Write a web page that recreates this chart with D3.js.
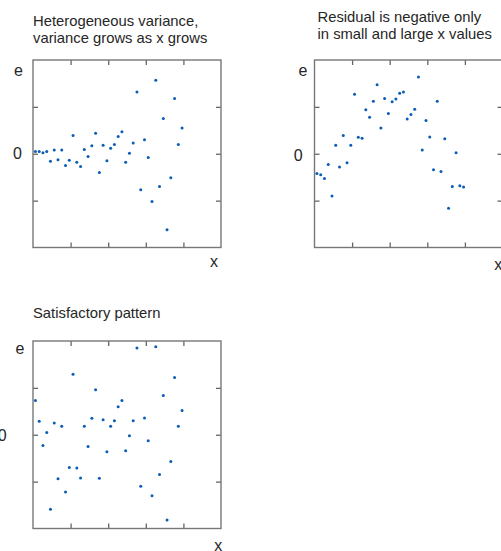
<!DOCTYPE html>
<html>
<head>
<meta charset="utf-8">
<script src="https://cdn.jsdelivr.net/npm/d3@7"></script>
<style>
  body { margin: 0; background: #fff; }
  text { font-family: "Liberation Sans", Arial, sans-serif; fill: #262626; }
</style>
</head>
<body>
<div id="chart-area"></div>
<script>
// x positions (observation index) shared by all three plots
var xIdx = [1, 2, 3, 4, 5, 6, 7, 8, 9, 10, 11, 12, 13, 14, 15, 16, 17, 18, 19, 20,
            21, 22, 23, 24, 25, 26, 27, 28, 29, 30, 31, 32, 33, 34, 35, 36, 37, 38, 39, 40];

// residuals
var hetero = [0.05, 0.05, 0.02, 0.05, -0.16, 0.08, -0.13, 0.08, -0.25, -0.14,
              0.39, -0.18, -0.27, 0.09, -0.06, 0.17, 0.44, -0.40, 0.18, -0.15,
              0.12, 0.20, 0.37, 0.47, -0.18, 0.01, 0.23, 1.32, -0.77, 0.30,
              -0.08, -1.02, 1.57, -0.70, 0.75, -1.62, -0.51, 1.18, 0.20, 0.55];

var curved = [-0.42, -0.45, -0.53, -0.23, -0.90, 0.18, -0.28, 0.39, -0.19, 0.18,
              1.27, 0.35, 0.33, 0.94, 0.78, 1.12, 1.47, 0.55, 1.18, 0.86,
              1.11, 1.17, 1.29, 1.32, 0.74, 0.84, 0.95, 1.64, 0.08, 0.71,
              0.36, -0.34, 1.12, -0.38, 0.32, -1.16, -0.70, 0.02, -0.68, -0.71];

var random = [0.73, 0.29, -0.23, 0.05, -1.59, 0.25, -0.94, 0.18, -1.22, -0.70,
              1.29, -0.71, -0.92, 0.18, -0.25, 0.35, 0.96, -0.93, 0.32, -0.36,
              0.18, 0.30, 0.60, 0.73, -0.34, -0.02, 0.30, 1.85, -1.10, 0.36,
              -0.13, -1.30, 1.88, -0.85, 0.84, -1.82, -0.57, 1.22, 0.18, 0.52];

var xTicks = [10.35, 20.35, 30.35, 40.35];
var yTicks = [-1, 0, 1];

var panels = [
  { title: ["Heterogeneous variance,", "variance grows as x grows"], values: hetero,
    left: 33, top: 60, titleX: 33, titleY: 26,
    eX: 18.5, eY: 76, zeroX: 22, zeroY: 159, xlX: 214, xlY: 267 },
  { title: ["Residual is negative only", "in small and large x values"], values: curved,
    left: 314.5, top: 60, titleX: 317.5, titleY: 22,
    eX: 303, eY: 76, zeroX: 302.7, zeroY: 160.5, xlX: 498.3, xlY: 270 },
  { title: ["Satisfactory pattern"], values: random,
    left: 33, top: 341, titleX: 33, titleY: 318,
    eX: 20, eY: 353.5, zeroX: 6.7, zeroY: 440.5, xlX: 218.3, xlY: 550.5 }
];

var width = 188;
var height = 187.5;
var tick = 5;

var svg = d3.select("#chart-area").append("svg")
    .attr("width", 501)
    .attr("height", 551);

var x = d3.scaleLinear().domain([0.35, 50.35]).range([0, width]);
var y = d3.scaleLinear().domain([-2, 2]).range([height, 0]);

panels.forEach(function (p) {
    // title lines
    svg.append("text")
        .attr("x", p.titleX)
        .attr("y", p.titleY)
        .style("font-size", "14.8px")
        .selectAll("tspan")
        .data(p.title)
        .enter()
        .append("tspan")
        .attr("x", p.titleX)
        .attr("dy", function (d, i) { return i === 0 ? 0 : 17; })
        .text(function (d) { return d; });

    var g = svg.append("g")
        .attr("transform", "translate(" + p.left + "," + p.top + ")");

    // inward ticks on all four sides
    var axes = [
        { call: d3.axisBottom(x), t: "translate(0," + height + ")", vals: xTicks },
        { call: d3.axisTop(x), t: "translate(0,0)", vals: xTicks },
        { call: d3.axisLeft(y), t: "translate(0,0)", vals: yTicks },
        { call: d3.axisRight(y), t: "translate(" + width + ",0)", vals: yTicks }
    ];
    axes.forEach(function (a) {
        var ag = g.append("g")
            .attr("transform", a.t)
            .call(a.call.tickValues(a.vals).tickSize(-tick).tickFormat(""));
        ag.select(".domain").remove();
        ag.selectAll("line").attr("stroke", "#666").attr("stroke-width", 1.3);
    });

    // frame
    g.append("rect")
        .attr("width", width)
        .attr("height", height)
        .attr("fill", "none")
        .attr("stroke", "#777")
        .attr("stroke-width", 1.4);

    // points
    g.selectAll("circle")
        .data(p.values)
        .enter()
        .append("circle")
        .attr("cx", function (d, i) { return x(xIdx[i]); })
        .attr("cy", function (d) { return y(d); })
        .attr("r", 1.5)
        .attr("fill", "#0b5cb5");

    // axis labels
    svg.append("text")
        .attr("x", p.eX).attr("y", p.eY)
        .attr("text-anchor", "middle")
        .style("font-size", "16px")
        .text("e");
    svg.append("text")
        .attr("x", p.zeroX).attr("y", p.zeroY)
        .attr("text-anchor", "end")
        .style("font-size", "16px")
        .text("0");
    svg.append("text")
        .attr("x", p.xlX).attr("y", p.xlY)
        .attr("text-anchor", "middle")
        .style("font-size", "16px")
        .text("x");
});
</script>
</body>
</html>
